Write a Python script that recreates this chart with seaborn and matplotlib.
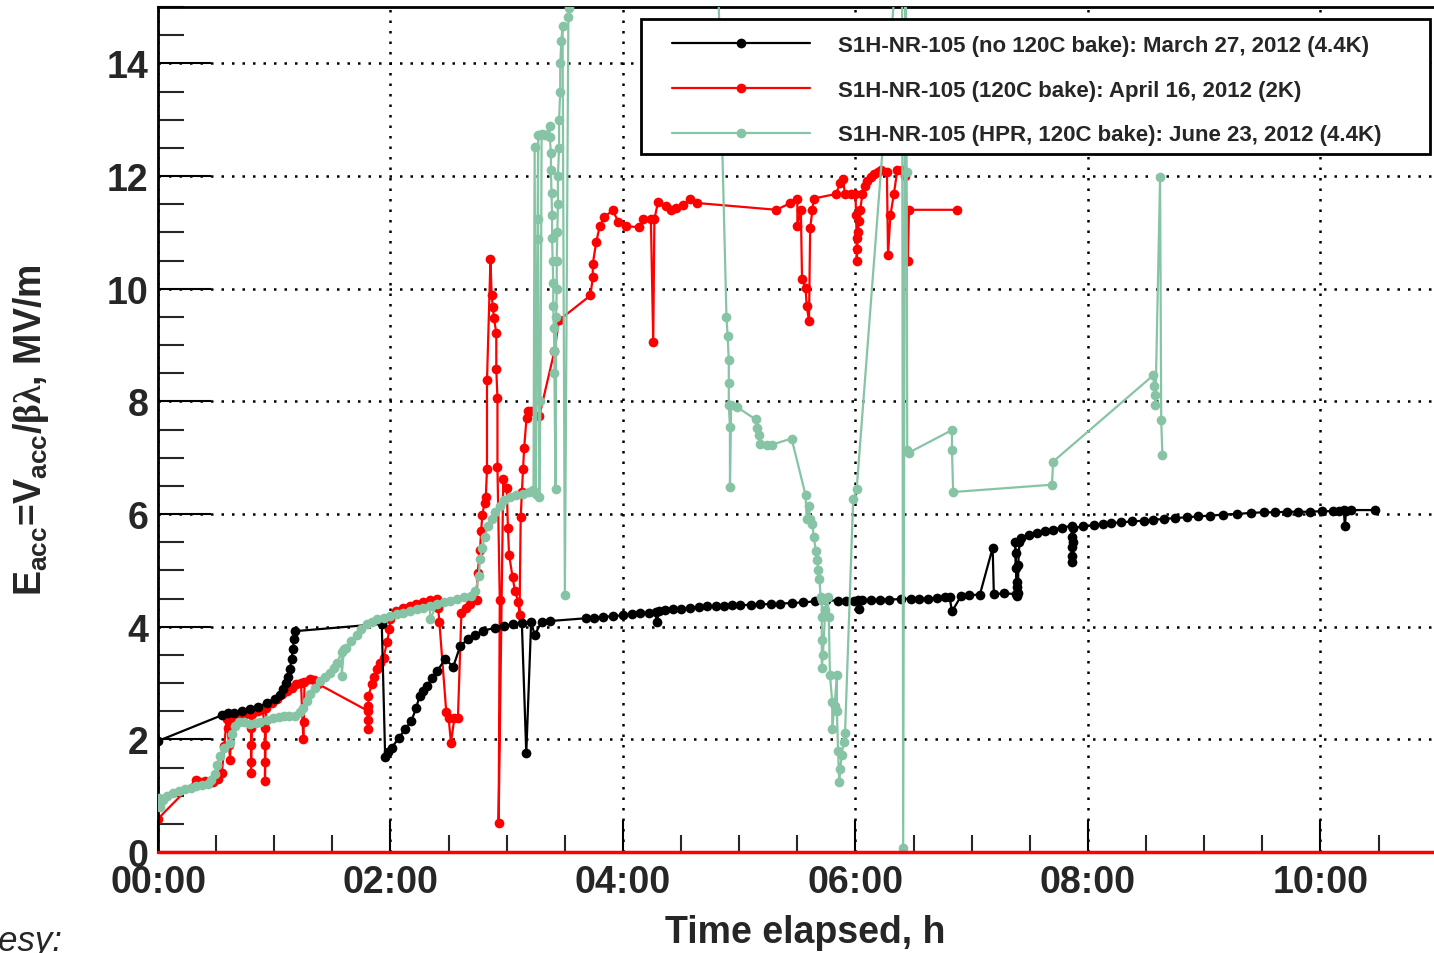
import matplotlib
matplotlib.use("Agg")
import matplotlib.pyplot as plt
from matplotlib.patches import Rectangle
from matplotlib.lines import Line2D
import seaborn as sns
import pandas as pd

# ---------------- data ----------------
black_t = [0, 0.55, 0.60, 0.65, 0.72, 0.79, 0.86, 0.935, 1.006, 1.05, 1.078, 1.10, 1.12, 1.135, 1.149, 1.16, 1.17, 1.178,
           1.925, 1.954, 1.98, 2.01, 2.07, 2.126, 2.18, 2.22, 2.25, 2.28, 2.31, 2.36, 2.40, 2.47, 2.54, 2.60, 2.67, 2.73,
           2.80, 2.90, 2.98, 3.05, 3.13, 3.168, 3.21, 3.24, 3.30, 3.37, 3.68, 3.75, 3.83, 3.91, 4.0, 4.08, 4.15, 4.22,
           4.28, 4.29, 4.31, 4.36, 4.43, 4.50, 4.58, 4.65, 4.72, 4.80, 4.87, 4.94, 5.01, 5.10, 5.18, 5.27, 5.35, 5.45,
           5.55, 5.65, 5.75, 5.85, 5.92, 5.99, 6.02, 6.03, 6.06, 6.13, 6.21, 6.29, 6.39, 6.48, 6.55, 6.62, 6.70, 6.77,
           6.81, 6.83, 6.91, 6.98, 7.07, 7.18, 7.19, 7.28, 7.38, 7.39, 7.39, 7.38, 7.38, 7.37, 7.39, 7.40, 7.40, 7.41,
           7.42, 7.49, 7.56, 7.63, 7.70, 7.78, 7.86, 7.86, 7.86, 7.86, 7.86, 7.87, 7.87, 7.96, 8.05, 8.13, 8.20, 8.28,
           8.38, 8.48, 8.56, 8.65, 8.75, 8.85, 8.95, 9.05, 9.16, 9.28, 9.40, 9.51, 9.61, 9.71, 9.81, 9.91, 10.01, 10.11,
           10.16, 10.20, 10.21, 10.22, 10.26, 10.47]
black_e = [1.97, 2.43, 2.47, 2.47, 2.50, 2.54, 2.58, 2.64, 2.72, 2.78, 2.89, 3.00, 3.11, 3.25, 3.42, 3.60, 3.78, 3.92,
           4.05, 1.69, 1.78, 1.85, 2.02, 2.18, 2.33, 2.55, 2.77, 2.85, 2.95, 3.08, 3.21, 3.42, 3.29, 3.66, 3.78, 3.86,
           3.93, 3.98, 4.02, 4.04, 4.06, 1.75, 4.09, 3.85, 4.09, 4.10, 4.15, 4.16, 4.17, 4.19, 4.20, 4.22, 4.24, 4.25,
           4.26, 4.08, 4.27, 4.29, 4.31, 4.32, 4.33, 4.35, 4.36, 4.36, 4.37, 4.38, 4.38, 4.39, 4.40, 4.40, 4.41, 4.42,
           4.43, 4.45, 4.47, 4.46, 4.46, 4.45, 4.48, 4.32, 4.47, 4.47, 4.48, 4.48, 4.49, 4.50, 4.50, 4.50, 4.51, 4.52,
           4.52, 4.27, 4.55, 4.56, 4.57, 5.40, 4.58, 4.59, 4.58, 4.55, 4.80, 5.05, 5.30, 5.50, 4.70, 4.60, 5.10, 5.50,
           5.57, 5.63, 5.67, 5.70, 5.72, 5.76, 5.79, 5.60, 5.42, 5.25, 5.14, 5.50, 5.75, 5.78, 5.80, 5.82, 5.84, 5.85,
           5.87, 5.88, 5.90, 5.91, 5.93, 5.94, 5.96, 5.97, 5.99, 6.00, 6.02, 6.03, 6.03, 6.04, 6.04, 6.04, 6.05, 6.05,
           6.06, 6.07, 5.79, 6.06, 6.07, 6.07]

red_t = [0, 0.33, 0.36, 0.40, 0.44, 0.47, 0.52, 0.55, 0.57, 0.59, 0.60, 0.61, 0.62, 0.63, 0.675, 0.72, 0.76, 0.79,
         0.80, 0.80, 0.80, 0.80, 0.81, 0.86, 0.90, 0.92, 0.92, 0.92, 0.92, 0.93, 0.98, 1.02, 1.07, 1.11, 1.15, 1.19,
         1.23, 1.25, 1.255, 1.26, 1.31, 1.34, 1.38, 1.81, 1.81, 1.81, 1.81, 1.81, 1.84, 1.86, 1.88, 1.91, 1.94, 1.97,
         1.99, 2.0, 2.05, 2.11, 2.17, 2.22, 2.28, 2.34, 2.40, 2.41, 2.42, 2.48, 2.50, 2.52, 2.55, 2.58, 2.61, 2.65,
         2.68, 2.74, 2.75, 2.77, 2.78, 2.79, 2.81, 2.82, 2.83, 2.83, 2.86, 2.87, 2.88, 2.89, 2.91, 2.91, 2.92, 2.92,
         2.94, 2.93, 2.97, 3.0, 3.01, 3.02, 3.05, 3.07, 3.10, 3.11, 3.12, 3.13, 3.14, 3.15, 3.17, 3.18, 3.21, 3.28,
         3.41, 3.45, 3.72, 3.74, 3.74, 3.77, 3.80, 3.84, 3.91, 3.96, 4.03, 4.14, 4.17, 4.24, 4.26, 4.27, 4.30, 4.37,
         4.41, 4.46, 4.52, 4.58, 4.64, 5.32, 5.44, 5.50, 5.50, 5.53, 5.54, 5.57, 5.58, 5.60, 5.61, 5.63, 5.64, 5.83,
         5.87, 5.89, 5.91, 5.96, 6.0, 6.005, 6.01, 6.01, 6.015, 6.02, 6.03, 6.04, 6.06, 6.08, 6.10, 6.13, 6.16, 6.19,
         6.22, 6.27, 6.28, 6.30, 6.33, 6.36, 6.40, 6.43, 6.45, 6.46, 6.87]
red_e = [0.59, 1.28, 1.25, 1.26, 1.23, 1.24, 1.29, 1.41, 1.88, 2.36, 2.20, 1.90, 1.64, 2.30, 2.41, 2.42, 2.45, 2.47,
         2.20, 1.90, 1.60, 1.41, 2.45, 2.50, 2.53, 2.20, 1.90, 1.60, 1.26, 2.56, 2.65, 2.71, 2.80, 2.86, 2.92, 2.98,
         3.00, 2.00, 2.30, 3.01, 3.07, 3.05, 2.98, 2.50, 2.18, 2.35, 2.60, 2.77, 2.98, 3.10, 3.24, 3.35, 3.45, 3.72,
         3.95, 4.13, 4.28, 4.33, 4.37, 4.40, 4.44, 4.47, 4.49, 4.33, 4.09, 2.48, 2.38, 1.94, 2.38, 2.38, 4.25, 4.33,
         4.40, 4.48, 4.96, 5.36, 5.70, 5.99, 6.20, 6.31, 6.79, 8.37, 10.52, 9.88, 9.68, 9.48, 9.21, 8.57, 8.06, 6.83,
         4.48, 0.52, 6.63, 6.47, 5.75, 5.28, 4.88, 4.64, 4.44, 4.21, 5.95, 6.39, 6.79, 7.18, 7.70, 7.82, 7.82, 7.74,
         8.89, 9.44, 9.88, 10.20, 10.44, 10.83, 11.11, 11.27, 11.39, 11.19, 11.11, 11.09, 11.23, 11.23, 9.05, 11.23, 11.53, 11.47,
         11.40, 11.44, 11.48, 11.60, 11.52, 11.40, 11.52, 11.60, 11.12, 11.40, 10.17, 10.02, 9.70, 9.42, 11.08, 11.40, 11.60, 11.68,
         11.87, 11.95, 11.68, 11.68, 11.68, 11.30, 10.90, 10.49, 10.70, 11.00, 11.20, 11.40, 11.68, 11.82, 11.91, 11.98, 12.03, 12.07,
         12.11, 12.07, 10.59, 11.30, 11.68, 12.11, 12.11, 12.00, 10.49, 11.40, 11.40]

green_t = [0, 0.01, 0.02, 0.04, 0.08, 0.13, 0.18, 0.23, 0.28, 0.33, 0.38, 0.43, 0.46, 0.49, 0.51, 0.53, 0.57, 0.62,
           0.64, 0.66, 0.70, 0.74, 0.79, 0.84, 0.88, 0.94, 0.99, 1.04, 1.08, 1.13, 1.18, 1.22, 1.25, 1.28, 1.31, 1.35,
           1.39, 1.44, 1.48, 1.51, 1.54, 1.58, 1.58, 1.60, 1.62, 1.66, 1.71, 1.75, 1.80, 1.84, 1.88, 1.94, 2.0, 2.06,
           2.11, 2.17, 2.23, 2.28, 2.34, 2.34, 2.40, 2.46, 2.51, 2.57, 2.63, 2.69, 2.73, 2.76, 2.77, 2.79, 2.81, 2.84,
           2.87, 2.90, 2.94, 2.98, 3.03, 3.08, 3.14, 3.19, 3.23, 3.24, 3.25, 3.27, 3.27, 3.27, 3.28, 3.29, 3.30, 3.33,
           3.37, 3.37, 3.38, 3.38, 3.385, 3.39, 3.39, 3.395, 3.40, 3.40, 3.405, 3.41, 3.41, 3.42, 3.425, 3.43, 3.43, 3.435,
           3.44, 3.44, 3.45, 3.45, 3.46, 3.46, 3.47, 3.48, 3.50, 3.53, 3.535, 3.55, 4.74, 4.89, 4.90, 4.91, 4.91, 4.91,
           4.92, 4.92, 4.93, 4.98, 5.14, 5.15, 5.17, 5.18, 5.24, 5.28, 5.45, 5.57, 5.58, 5.60, 5.61, 5.63, 5.64, 5.66,
           5.67, 5.68, 5.69, 5.70, 5.71, 5.71, 5.71, 5.71, 5.72, 5.74, 5.76, 5.77, 5.78, 5.80, 5.80, 5.82, 5.84, 5.84,
           5.85, 5.86, 5.87, 5.88, 5.90, 5.91, 5.98, 6.01, 6.40, 6.41, 6.43, 6.44, 6.445, 6.46, 6.83, 6.83, 6.84, 7.69,
           7.70, 8.56, 8.57, 8.58, 8.58, 8.62, 8.63, 8.64]
green_e = [0.85, 0.95, 0.80, 0.93, 1.00, 1.05, 1.08, 1.11, 1.14, 1.17, 1.19, 1.20, 1.28, 1.38, 1.55, 1.70, 1.85, 1.94,
           2.10, 2.24, 2.31, 2.30, 2.28, 2.29, 2.30, 2.34, 2.37, 2.39, 2.41, 2.41, 2.41, 2.48, 2.56, 2.68, 2.80, 2.92,
           3.04, 3.11, 3.18, 3.27, 3.36, 3.55, 3.12, 3.60, 3.63, 3.75, 3.86, 3.96, 4.04, 4.09, 4.13, 4.16, 4.19, 4.22,
           4.25, 4.28, 4.31, 4.34, 4.37, 4.13, 4.40, 4.43, 4.46, 4.49, 4.52, 4.54, 4.63, 4.90, 5.20, 5.40, 5.60, 5.78,
           5.91, 6.03, 6.15, 6.24, 6.31, 6.33, 6.35, 6.39, 6.43, 12.52, 6.35, 12.72, 11.24, 10.89, 6.30, 8.00, 12.75, 12.72,
           12.88, 12.70, 12.40, 12.10, 11.70, 11.30, 10.90, 10.50, 10.10, 9.70, 9.30, 8.90, 8.50, 6.44, 9.50, 10.00, 10.50, 11.00,
           11.50, 12.00, 12.50, 13.00, 13.50, 14.00, 14.40, 14.67, 4.56, 14.83, 14.98, 22.0, 22.0, 9.50, 9.16, 8.73, 8.32, 7.94,
           7.55, 6.48, 7.94, 7.90, 7.68, 7.53, 7.41, 7.25, 7.23, 7.23, 7.34, 6.34, 5.91, 6.14, 5.91, 5.83, 5.59, 5.35,
           5.19, 5.00, 4.84, 4.52, 4.48, 4.17, 3.77, 3.26, 3.50, 4.30, 4.52, 4.17, 3.15, 2.66, 2.19, 2.60, 3.15, 2.50,
           1.80, 1.24, 1.48, 1.72, 1.95, 2.11, 6.26, 6.44, 17.0, 0.07, 17.0, 12.07, 7.13, 7.09, 7.49, 7.13, 6.39, 6.52,
           6.93, 8.46, 8.28, 8.11, 7.93, 11.98, 7.66, 7.04]

series_labels = ["S1H-NR-105 (no 120C bake): March 27, 2012 (4.4K)",
                 "S1H-NR-105 (120C bake): April 16, 2012 (2K)",
                 "S1H-NR-105 (HPR, 120C bake): June 23, 2012 (4.4K)"]
xtick_vals = [0, 2, 4, 6, 8, 10]
xtick_labels = ["00:00", "02:00", "04:00", "06:00", "08:00", "10:00"]
ytick_vals = [0, 2, 4, 6, 8, 10, 12, 14]

# ---------------- style ----------------
sns.set_theme(style="white")
plt.rcParams['font.family'] = ['Liberation Sans', 'DejaVu Sans']
plt.rcParams['font.weight'] = 'bold'
plt.rcParams['mathtext.fontset'] = 'custom'
plt.rcParams['mathtext.bf'] = 'Liberation Sans:bold'
plt.rcParams['mathtext.rm'] = 'Liberation Serif'
plt.rcParams['mathtext.it'] = 'Liberation Sans:italic'
plt.rcParams['mathtext.sf'] = 'Liberation Sans'

BLACK = "#000000"
RED = "#ff0000"
GREEN = "#86c4a5"
MS = 7
LW = 1.6

fig = plt.figure(figsize=(14.34, 9.54), dpi=100)
ax_w = 11.5 * 116.25 / 1434
ax = fig.add_axes([158 / 1434, 1 - 853 / 954, ax_w, 845 / 954])

df_b = pd.DataFrame({"t": black_t, "e": black_e})
df_r = pd.DataFrame({"t": red_t, "e": red_e})
df_g = pd.DataFrame({"t": green_t, "e": green_e})

common = dict(x="t", y="e", sort=False, estimator=None, marker="o", markersize=MS,
              markeredgewidth=0, linewidth=LW, ax=ax, legend=False)
sns.lineplot(data=df_r, color=RED, zorder=2, **common)
sns.lineplot(data=df_b, color=BLACK, zorder=3, **common)
sns.lineplot(data=df_g, color=GREEN, zorder=4, **common)

ax.axhline(0, color=RED, lw=2.5, zorder=5, clip_on=False)

ax.set_xlim(0, 11.5)
ax.set_ylim(0, 15)
ax.set_xticks(xtick_vals)
ax.set_xticklabels(xtick_labels)
ax.set_xticks([0.5 * i for i in range(24) if i % 4 != 0], minor=True)
ax.set_yticks(ytick_vals)
ax.set_yticks([0.5 * i for i in range(31) if i % 4 != 0], minor=True)
ax.set_xlabel("")
ax.set_ylabel("")

ax.tick_params(axis="x", which="major", direction="in", length=23, width=1.5, pad=9,
               labelsize=27, color="black", bottom=True)
ax.tick_params(axis="x", which="minor", direction="in", length=12, width=1.5, bottom=True)
ax.tick_params(axis="y", which="major", direction="in", length=38, width=1.5, pad=7,
               labelsize=27, color="black", left=True)
ax.tick_params(axis="y", which="minor", direction="in", length=19, width=1.5, left=True)
for lab in ax.get_xticklabels() + ax.get_yticklabels():
    lab.set_fontweight("bold")

ax.grid(True, which="major", color="black", linestyle=(0, (1, 3.2)), linewidth=1.8)
ax.set_axisbelow(True)
for side in ["left", "bottom", "top", "right"]:
    ax.spines[side].set_color("black")
    ax.spines[side].set_linewidth(2)

# legend frame + entries
ax.add_patch(Rectangle((0.3613, 0.826), 0.9514 - 0.3613, 0.9858 - 0.826, transform=ax.transAxes,
                       facecolor="white", edgecolor="black", linewidth=2, zorder=6))
handles = [Line2D([], [], color=c, marker="o", markersize=MS, markeredgewidth=0, linewidth=LW)
           for c in (BLACK, RED, GREEN)]
leg = ax.legend(handles, series_labels, loc="upper left", bbox_to_anchor=(0.3844, 0.967),
                frameon=False, borderpad=0, borderaxespad=0, handlelength=6.2, handletextpad=1.26,
                labelspacing=1.07, prop={"size": 16, "weight": "bold"})
leg.set_zorder(7)

fig.text(31 / 1434, 1 - 430 / 954,
         r"$\mathbf{E_{acc}}$=$\mathbf{V_{acc}}$/$\mathrm{\beta\lambda}$, MV/m",
         rotation=90, ha="center", va="center", fontsize=27, fontweight="bold")
fig.text(805 / 1434, 1 - 933 / 954, "Time elapsed, h", ha="center", va="center",
         fontsize=27, fontweight="bold")
fig.text(62 / 1434, 1 - 951 / 954, "Courtesy:", ha="right", va="baseline",
         fontsize=25, fontstyle="italic", fontweight="normal")

fig.savefig("out.png", dpi=100)
